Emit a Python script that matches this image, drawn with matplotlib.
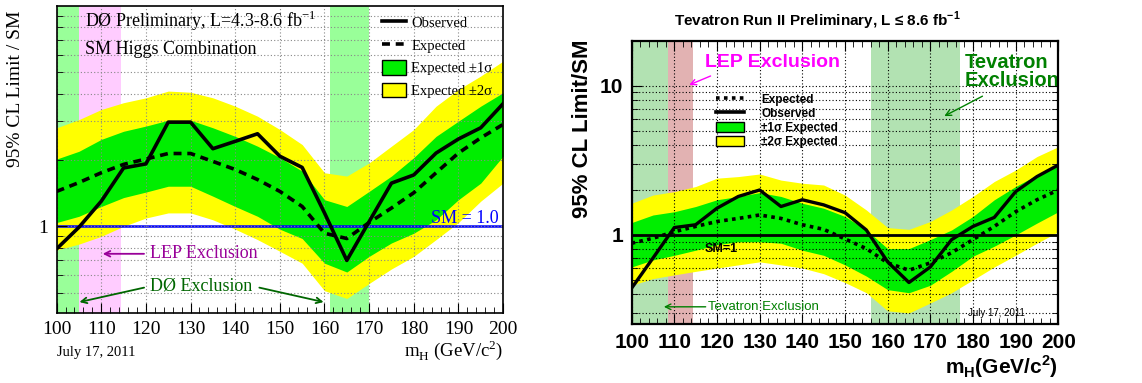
import matplotlib
matplotlib.use("Agg")
import matplotlib.pyplot as p
from matplotlib.lines import Line2D
from matplotlib.patches import Patch
from matplotlib.ticker import FixedLocator, NullFormatter, MultipleLocator

p.rcParams['mathtext.fontset'] = 'custom'
p.rcParams['mathtext.rm'] = 'Liberation Serif'
p.rcParams['mathtext.bf'] = 'Liberation Sans:bold'

mass = [100, 105, 110, 115, 120, 125, 130, 135, 140, 145, 150,
        155, 160, 165, 170, 175, 180, 185, 190, 195, 200]

# D0 combination
d0_obs = [0.79, 0.99, 1.30, 1.84, 1.92, 2.97, 2.97, 2.25, 2.43, 2.63, 2.08,
          1.85, 1.15, 0.70, 1.05, 1.57, 1.71, 2.15, 2.49, 2.80, 3.60]
d0_exp = [1.44, 1.58, 1.75, 1.91, 2.02, 2.14, 2.14, 1.97, 1.81, 1.63, 1.44,
          1.23, 0.93, 0.88, 1.04, 1.21, 1.42, 1.75, 2.15, 2.52, 2.90]
d0_p1 = [2.02, 2.19, 2.48, 2.70, 2.85, 3.03, 3.03, 2.80, 2.56, 2.31, 2.05,
         1.78, 1.32, 1.23, 1.44, 1.69, 2.05, 2.56, 3.00, 3.51, 4.04]
d0_m1 = [1.04, 1.11, 1.23, 1.35, 1.43, 1.52, 1.52, 1.37, 1.23, 1.11, 0.97,
         0.88, 0.68, 0.62, 0.73, 0.84, 0.93, 1.07, 1.32, 1.57, 2.08]
d0_p2 = [2.80, 3.05, 3.39, 3.64, 3.83, 4.11, 4.06, 3.83, 3.51, 3.16, 2.75,
         2.35, 1.75, 1.69, 1.94, 2.31, 2.75, 3.51, 4.18, 4.81, 5.62]
d0_m2 = [0.78, 0.83, 0.90, 1.00, 1.09, 1.15, 1.15, 1.07, 0.97, 0.87, 0.77,
         0.68, 0.51, 0.47, 0.55, 0.64, 0.73, 0.87, 1.04, 1.30, 1.57]

# Tevatron combination
tev_obs = [0.44, 0.70, 1.12, 1.17, 1.51, 1.81, 2.00, 1.55, 1.72, 1.59, 1.41,
           1.08, 0.66, 0.48, 0.61, 0.93, 1.14, 1.31, 1.95, 2.46, 2.94]
tev_exp = [0.88, 0.95, 1.05, 1.14, 1.23, 1.29, 1.36, 1.29, 1.17, 1.09, 0.94,
           0.81, 0.65, 0.58, 0.65, 0.76, 0.93, 1.14, 1.43, 1.72, 2.00]
tev_p1 = [1.21, 1.36, 1.43, 1.55, 1.72, 1.81, 1.92, 1.81, 1.63, 1.51, 1.33,
          1.08, 0.81, 0.81, 0.93, 1.08, 1.33, 1.72, 2.11, 2.52, 2.94]
tev_m1 = [0.61, 0.68, 0.73, 0.79, 0.86, 0.90, 0.90, 0.88, 0.79, 0.73, 0.63,
          0.53, 0.43, 0.41, 0.46, 0.57, 0.72, 0.84, 1.00, 1.20, 1.43]
tev_p2 = [1.63, 1.85, 1.95, 2.11, 2.40, 2.46, 2.56, 2.33, 2.22, 2.16, 1.85,
          1.47, 1.12, 1.09, 1.23, 1.47, 1.81, 2.28, 2.72, 3.35, 3.90]
tev_m2 = [0.46, 0.51, 0.54, 0.57, 0.60, 0.63, 0.66, 0.63, 0.60, 0.55, 0.48,
          0.41, 0.31, 0.30, 0.35, 0.41, 0.50, 0.61, 0.73, 0.88, 1.05]

# excluded mass ranges
d0_excl = [(100, 105), (161.3, 170)]
d0_lep = (105, 114.5)
tev_excl = [(100, 108.6), (156, 177)]
tev_lep = (108.6, 114.4)

fig = p.figure(figsize=(11.42, 3.83), dpi=100)

# ---------------- left : D0 ----------------
serif = 'Liberation Serif'
ax = fig.add_axes([0.0496, 0.1828, 0.3909, 0.8015])
for a, b in d0_excl:
    ax.axvspan(a, b, color='#99ff99', lw=0, zorder=0)
ax.axvspan(d0_lep[0], d0_lep[1], color='#ffccff', lw=0, zorder=0)
ax.fill_between(mass, d0_m2, d0_p2, color='#ffff00', lw=0, zorder=1)
ax.fill_between(mass, d0_m1, d0_p1, color='#00ee00', lw=0, zorder=1)
ax.axhline(1, color='#0000ff', lw=1.8, zorder=2)
ax.plot(mass, d0_exp, color='k', lw=2.6, ls=(0, (2.2, 1.6)), zorder=3)
ax.plot(mass, d0_obs, color='k', lw=2.6, zorder=4)
ax.set_yscale('log')
ax.set_xlim(100, 200)
ax.set_ylim(0.404, 10)
ax.yaxis.set_major_locator(FixedLocator([1]))
ax.yaxis.set_minor_locator(FixedLocator([0.5, 0.6, 0.7, 0.8, 0.9, 2, 3, 4, 5, 6, 7, 8, 9]))
ax.yaxis.set_minor_formatter(NullFormatter())
ax.set_yticklabels(['1'])
ax.xaxis.set_major_locator(MultipleLocator(10))
ax.xaxis.set_minor_locator(MultipleLocator(2))
ax.tick_params(which='both', direction='in', top=False, right=False)
ax.tick_params(which='major', length=7, labelsize=14, pad=6)
ax.tick_params(which='minor', length=4)
for lab in ax.get_xticklabels() + ax.get_yticklabels():
    lab.set_fontfamily(serif)
ax.grid(True, which='major', axis='x', color='#888888', ls=(0, (1, 2)), lw=0.8)
ax.grid(True, which='both', axis='y', color='#888888', ls=(0, (1, 2)), lw=0.8)
ax.set_axisbelow(False)
for s in ax.spines.values():
    s.set_linewidth(1.2)
    s.set_zorder(6)
ax.set_ylabel('95% CL Limit / SM', fontsize=14, family=serif, labelpad=2)
ax.yaxis.set_label_coords(-0.073, 0.73)
ax.text(1.0, -0.12, r'm$_{\mathrm{H}}$ (GeV/c$^{\mathrm{2}}$)', transform=ax.transAxes,
        ha='right', va='center', fontsize=13.5, family=serif)
ax.text(0.0, -0.13, 'July 17, 2011', transform=ax.transAxes, ha='left', va='center',
        fontsize=10.5, family=serif)
ax.text(106.3, 8.55, r'DØ Preliminary, L=4.3-8.6 fb$^{\mathrm{-1}}$', fontsize=13, family=serif,
        va='center', zorder=5)
ax.text(106.3, 6.35, 'SM Higgs Combination', fontsize=13, family=serif, va='center', zorder=5)
ax.text(199, 1.09, 'SM = 1.0', color='#0000ff', fontsize=13, family=serif, ha='right',
        va='center', zorder=5)
ax.annotate('', xy=(109.7, 0.75), xytext=(120.2, 0.75),
            arrowprops=dict(arrowstyle='->', color='#990099', lw=1.3), zorder=5)
ax.text(120.9, 0.75, 'LEP Exclusion', color='#990099', fontsize=13, family=serif, va='center', zorder=5)
ax.text(120.9, 0.535, 'DØ Exclusion', color='#006600', fontsize=13, family=serif, va='center', zorder=5)
ax.annotate('', xy=(104.5, 0.45), xytext=(120.2, 0.53),
            arrowprops=dict(arrowstyle='->', color='#006600', lw=1.3), zorder=5)
ax.annotate('', xy=(160.4, 0.45), xytext=(144.8, 0.53),
            arrowprops=dict(arrowstyle='->', color='#006600', lw=1.3), zorder=5)
h = [Line2D([], [], color='k', lw=2.6),
     Line2D([], [], color='k', lw=2.6, ls=(0, (2.2, 1.6))),
     Patch(facecolor='#00ee00', edgecolor='k', lw=1),
     Patch(facecolor='#ffff00', edgecolor='k', lw=1)]
leg = ax.legend(h, ['Observed', 'Expected', 'Expected ±1σ', 'Expected ±2σ'],
                loc='upper left', bbox_to_anchor=(0.70, 1.013), frameon=False,
                prop={'family': serif, 'size': 10.5}, handlelength=1.6,
                handleheight=1.15, labelspacing=0.5, handletextpad=0.4,
                borderpad=0.4)
leg.set_zorder(7)

# ---------------- right : Tevatron ----------------
sans = 'Liberation Sans'
bx = fig.add_axes([0.5531, 0.1533, 0.3736, 0.7404])
for a, b in tev_excl:
    bx.axvspan(a, b, color='#b2e2b2', lw=0, zorder=0)
bx.axvspan(tev_lep[0], tev_lep[1], color='#e2b2b2', lw=0, zorder=0)
bx.fill_between(mass, tev_m2, tev_p2, color='#ffff00', lw=0, zorder=1)
bx.fill_between(mass, tev_m1, tev_p1, color='#00ee00', lw=0, zorder=1)
bx.axhline(1, color='k', lw=2, zorder=2)
bx.plot(mass, tev_exp, color='k', lw=2.6, ls=(0, (1, 1.2)), zorder=3)
bx.plot(mass, tev_obs, color='k', lw=2.4, zorder=4)
bx.set_yscale('log')
bx.set_xlim(100, 200)
bx.set_ylim(0.252, 20)
bx.yaxis.set_major_locator(FixedLocator([1, 10]))
bx.yaxis.set_minor_locator(FixedLocator([0.3, 0.4, 0.5, 0.6, 0.7, 0.8, 0.9,
                                         2, 3, 4, 5, 6, 7, 8, 9]))
bx.yaxis.set_minor_formatter(NullFormatter())
bx.set_yticklabels(['1', '10'])
bx.xaxis.set_major_locator(MultipleLocator(10))
bx.xaxis.set_minor_locator(MultipleLocator(2))
bx.tick_params(which='both', direction='in', top=True, right=True)
bx.tick_params(which='major', length=7, labelsize=15, pad=6)
bx.tick_params(which='minor', length=4)
for lab in bx.get_xticklabels() + bx.get_yticklabels():
    lab.set_fontfamily(sans)
    lab.set_fontweight('bold')
bx.grid(True, which='major', axis='x', color='k', ls=(0, (1, 2)), lw=0.8)
bx.grid(True, which='both', axis='y', color='k', ls=(0, (1, 2)), lw=0.8)
bx.set_axisbelow(False)
for s in bx.spines.values():
    s.set_linewidth(1.6)
    s.set_zorder(6)
bx.set_ylabel('95% CL Limit/SM', fontsize=16, family=sans, fontweight='bold', labelpad=4)
bx.yaxis.set_label_coords(-0.09, 0.69)
bx.text(1.0, -0.15, r'm$_{\mathbf{H}}$(GeV/c$^{\mathbf{2}}$)', transform=bx.transAxes,
        ha='right', va='center', fontsize=15, family=sans, fontweight='bold')
fig.text(0.716, 0.945, r'Tevatron Run II Preliminary, L ≤ 8.6 fb$^{\mathbf{-1}}$',
         ha='center', va='center', fontsize=11, family=sans, fontweight='bold')
bx.text(117.2, 14.3, 'LEP Exclusion', color='#ff00ff', fontsize=14, family=sans,
        fontweight='bold', va='center', zorder=5)
bx.annotate('', xy=(112.9, 9.95), xytext=(119.1, 11.8),
            arrowprops=dict(arrowstyle='->', color='#ff00ff', lw=1), zorder=5)
bx.text(178.1, 12.5, 'Tevatron\nExclusion', color='#008000', fontsize=14.5, family=sans,
        fontweight='bold', va='center', linespacing=0.95, zorder=5)
bx.annotate('', xy=(172.7, 6.13), xytext=(182.8, 8.67),
            arrowprops=dict(arrowstyle='->', color='#008000', lw=1), zorder=5)
bx.text(117.9, 0.33, 'Tevatron Exclusion', color='#008000', fontsize=9.5, family=sans,
        va='center', zorder=5)
bx.annotate('', xy=(106.9, 0.33), xytext=(118.0, 0.33),
            arrowprops=dict(arrowstyle='->', color='#008000', lw=1), zorder=5)
bx.text(117.0, 0.80, 'SM=1', color='k', fontsize=9, family=sans, fontweight='bold',
        va='center', zorder=5)
bx.text(178.9, 0.30, 'July 17, 2011', color='k', fontsize=7, family=sans,
        va='center', zorder=5)
h2 = [Line2D([], [], color='k', lw=2.6, ls=(0, (1, 1.2))),
      Line2D([], [], color='k', lw=2.6),
      Patch(facecolor='#00ee00', edgecolor='k', lw=1),
      Patch(facecolor='#ffff00', edgecolor='k', lw=1)]
leg2 = bx.legend(h2, ['Expected', 'Observed', '±1σ Expected', '±2σ Expected'],
                 loc='upper left', bbox_to_anchor=(0.172, 0.852), frameon=False,
                 prop={'family': sans, 'size': 8.5, 'weight': 'bold'}, handlelength=2.4,
                 handleheight=1.0, labelspacing=0.15, handletextpad=1.45,
                 borderpad=0.4)
leg2.set_zorder(7)

p.savefig('out.png', dpi=100)
